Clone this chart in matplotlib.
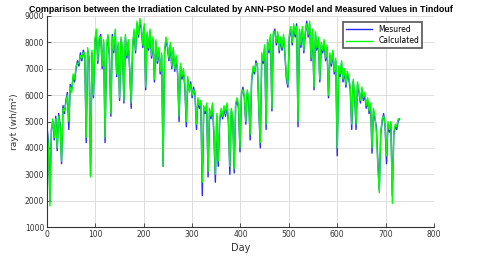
import numpy as np
import matplotlib
matplotlib.use('Agg')
import matplotlib.pyplot as plt

# daily irradiation, one value every 3 days (days 0, 3, 6, ... 729)
step = 3
measured = [
    4800, 4200, 2000, 4700, 5000, 4300, 5200, 3900, 5300, 4900, 3400,
    5600, 5300, 5800, 6100, 4700, 6400, 6200, 6700, 6500, 7000,
    7300, 7100, 7600, 7300, 7700, 7500, 4200, 7700, 7400, 2950,
    7600, 5900, 8000, 8400, 7200, 8100, 8300, 7000, 8000, 4200,
    7800, 8200, 7400, 5200, 8300, 7600, 8400, 6700, 7900, 5800,
    8100, 7700, 5700, 8200, 7400, 8000, 6900, 5500, 7800, 8400,
    7600, 8700, 8200, 8800, 8500, 7800, 8600, 6200, 8300, 7700,
    8400, 7400, 8100, 6500, 8000, 7200, 7700, 6800, 7500, 3300,
    7600, 8100, 7800, 7300, 7900, 7000, 7700, 6900, 7400, 6800,
    5000, 7100, 6600, 6900, 6300, 4800, 6600, 6200, 6500, 5900,
    6300, 6000, 4700, 5800, 5500, 5700, 2200, 5500, 5300, 5600,
    2900, 5400, 5100, 5600, 4500, 2700, 5200, 3300, 5000, 5400,
    5100, 5500, 5200, 5600, 5000, 3000, 5400, 5100, 3050, 5600,
    5800, 5500, 3850, 6000, 6300, 5900, 4900, 6100, 5800, 4300,
    6500, 7000, 6800, 7300, 7100, 5400, 4000, 7500, 7200, 7800,
    4700, 8000, 7600, 8200, 5400, 8300, 8500, 7900, 8300, 7600,
    8100, 7700, 8200, 7500, 6600, 6300, 8200, 8500, 7900, 8600,
    8200, 8700, 4800, 8400, 7800, 8500, 7600, 8300, 8800, 8200,
    8700, 7300, 8400, 6200, 8300, 7700, 8100, 6500, 7900, 7600,
    8000, 7300, 7800, 5900, 7500, 7100, 7600, 6800, 7300, 3700,
    7000, 6700, 7200, 6500, 6900, 6300, 6800, 6600, 6200, 4700,
    6500, 6000, 4700, 6400, 6100, 5700, 6200, 5800, 6000, 5500,
    5800, 5300, 5600, 3800, 5400, 5100, 4800, 3500, 2400, 4500,
    5000, 5300, 4800, 3400, 4900, 4600, 4900, 2200, 4500, 4800, 4700, 5000, 5100,
]
calculated = [
    4700, 4000, 1800, 4600, 5100, 4400, 5100, 4000, 5200, 4800, 3500,
    5500, 5400, 5700, 6000, 5000, 6300, 6100, 6800, 6600, 7100,
    7200, 7200, 7500, 7400, 7600, 7600, 4400, 7800, 7300, 2900,
    7700, 6000, 8100, 8500, 7300, 8200, 8200, 7100, 8100, 4400,
    7900, 8300, 7500, 5300, 8200, 7700, 8500, 6800, 8000, 5900,
    8200, 7800, 5800, 8300, 7500, 8100, 7000, 5700, 7900, 8500,
    7700, 8800, 8300, 8900, 8600, 7900, 8700, 6300, 8400, 7800,
    8500, 7500, 8200, 6600, 8100, 7300, 7800, 6900, 7600, 3300,
    7700, 8200, 7900, 7400, 8000, 7100, 7800, 7000, 7500, 6900,
    5200, 7200, 6700, 7000, 6400, 5000, 6700, 6100, 6400, 6000,
    6200, 6100, 4900, 5900, 5600, 5800, 2700, 5600, 5400, 5700,
    3100, 5500, 5200, 5700, 4700, 3000, 5300, 3500, 5100, 5500,
    5200, 5600, 5300, 5700, 5100, 3300, 5500, 5200, 3200, 5700,
    5900, 5600, 4000, 6100, 6200, 6000, 5000, 6200, 5900, 4500,
    6600, 7100, 6900, 7200, 7200, 5500, 4200, 7600, 7300, 7900,
    4900, 8100, 7700, 8300, 5500, 8400, 8400, 8000, 8400, 7700,
    8200, 7800, 8300, 7600, 6700, 6400, 8300, 8600, 8000, 8700,
    8300, 8600, 5000, 8500, 7900, 8600, 7700, 8400, 8700, 8300,
    8800, 7400, 8500, 6300, 8400, 7800, 8200, 6600, 8000, 7700,
    8100, 7400, 7900, 6000, 7600, 7200, 7700, 6900, 7400, 4000,
    7100, 6800, 7300, 6600, 7000, 6400, 6900, 6700, 6300, 4900,
    6600, 6100, 4900, 6500, 6200, 5800, 6300, 5900, 6100, 5600,
    5900, 5400, 5700, 4000, 5500, 5200, 4600, 3300, 2300, 4600,
    5100, 5200, 4900, 3700, 5000, 4700, 5000, 1900, 4600, 4900, 4800, 5100, 5100,
]
days = np.arange(len(measured)) * step

fig = plt.figure(figsize=(4.8, 2.65), dpi=100)
ax = fig.add_axes([0.098, 0.143, 0.806, 0.797])

ax.plot(days, measured, color='#2828ff', lw=1.0, label='Mesured')
ax.plot(days, calculated, color='#00ff00', lw=1.0, label='Calculated')

ax.set_xlim(0, 800)
ax.set_ylim(1000, 9000)
ax.set_xticks(range(0, 801, 100))
ax.set_yticks(range(1000, 9001, 1000))
ax.grid(True, color='#d9d9d9', lw=0.6)
ax.set_axisbelow(True)
ax.tick_params(direction='in', labelsize=5.5, length=3, width=0.6, colors='#333333', pad=2)
ax.spines['top'].set_visible(False)
ax.spines['right'].set_visible(False)
for s in ('left', 'bottom'):
    ax.spines[s].set_linewidth(0.8)
    ax.spines[s].set_color('#333333')

ax.set_title('Comparison between the Irradiation Calculated by ANN-PSO Model and Measured Values in Tindouf',
             fontsize=6.4, fontweight='bold', pad=3, family='Liberation Sans')
ax.set_xlabel('Day', fontsize=7, color='#333333', labelpad=3)
ax.set_ylabel('rayt (wh/m²)', fontsize=6.5, color='#333333', labelpad=4)

leg = ax.legend(loc='upper right', bbox_to_anchor=(0.98, 0.99), fontsize=5.5, fancybox=False,
                framealpha=1, handlelength=3.5, borderpad=0.4, labelspacing=0.3)
leg.get_frame().set_edgecolor('#555555')
leg.get_frame().set_linewidth(1.2)

fig.savefig('out.png', dpi=100)
